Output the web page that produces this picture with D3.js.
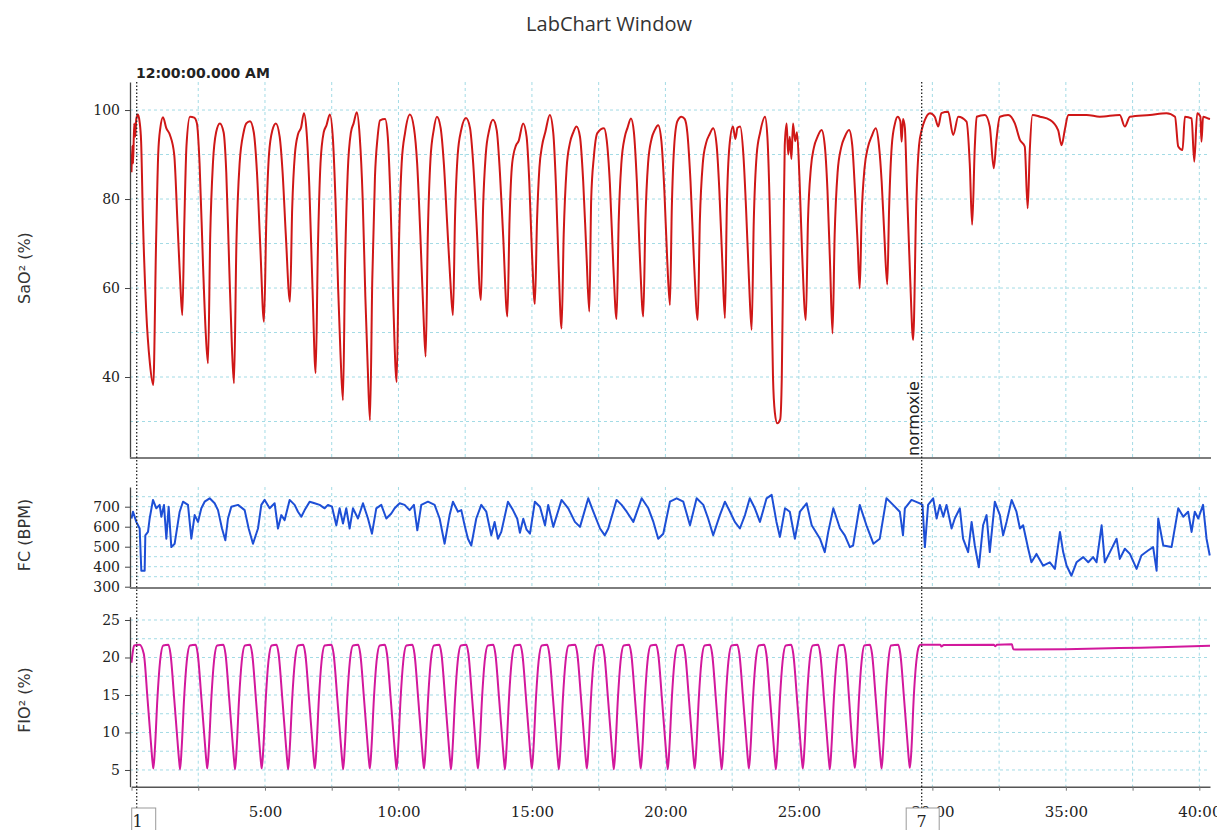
<!DOCTYPE html>
<html>
<head>
<meta charset="utf-8">
<title>LabChart Window</title>
<script src="https://cdn.jsdelivr.net/npm/d3@7"></script>
<style>
  body { margin: 0; background: #fff; }
  svg { display: block; }
</style>
</head>
<body>
<svg id="chart"></svg>
<script>
// SaO2 trace, [minutes, %]
var sao2 = [
  [0.0, 86], [0.03, 92], [0.06, 88], [0.1, 97], [0.14, 94], [0.18, 98], [0.24, 99], [0.3, 97.5], [0.36, 93], [0.43, 75], [0.55, 55], [0.69, 43], [0.816, 38.2],
  [0.92, 70], [1.0, 90], [1.08, 96], [1.18, 98.4], [1.3, 96], [1.44, 94.4], [1.6, 90], [1.72, 75], [1.82, 62], [1.903, 53.9],
  [1.98, 75], [2.06, 92], [2.19, 98.5], [2.35, 98.3], [2.45, 97], [2.55, 88], [2.68, 65], [2.78, 50], [2.865, 43.1],
  [2.95, 72], [3.05, 88], [3.17, 95], [3.31, 97], [3.45, 95], [3.55, 86], [3.66, 65], [3.76, 47], [3.839, 38.6],
  [3.93, 70], [4.05, 88], [4.2, 95], [4.3, 97], [4.44, 97.5], [4.58, 95], [4.7, 86], [4.82, 70], [4.963, 52.4],
  [5.05, 75], [5.15, 90], [5.28, 95.5], [5.41, 97], [5.55, 94], [5.66, 86], [5.78, 72], [5.936, 56.9],
  [6.02, 78], [6.12, 90], [6.24, 94.6], [6.35, 96], [6.46, 99.3], [6.56, 95], [6.66, 83], [6.78, 60], [6.899, 40.9],
  [6.98, 68], [7.08, 88], [7.2, 95], [7.3, 96.5], [7.43, 99], [7.55, 93], [7.64, 80], [7.74, 60], [7.83, 45], [7.921, 34.8],
  [8.0, 65], [8.1, 86], [8.22, 95], [8.32, 97], [8.44, 99.5], [8.55, 94], [8.66, 80], [8.76, 58], [8.85, 42], [8.933, 30.3],
  [9.02, 62], [9.12, 85], [9.22, 94], [9.31, 97.7], [9.5, 98], [9.6, 94], [9.7, 80], [9.8, 58], [9.933, 38.9],
  [10.02, 70], [10.12, 88], [10.25, 95], [10.43, 99], [10.58, 96], [10.7, 88], [10.82, 72], [10.93, 55], [11.019, 44.6],
  [11.1, 72], [11.2, 89], [11.32, 95.5], [11.44, 98.5], [11.58, 96], [11.7, 88], [11.82, 75], [11.94, 62], [12.041, 53.9],
  [12.12, 76], [12.22, 90], [12.35, 95.5], [12.53, 98.2], [12.68, 96], [12.8, 88], [12.92, 75], [13.09, 57.3],
  [13.17, 78], [13.27, 90], [13.4, 95.5], [13.54, 97.8], [13.68, 95.5], [13.8, 86], [13.92, 72], [14.08, 53.6],
  [14.16, 75], [14.26, 88], [14.4, 92], [14.5, 93], [14.67, 97], [14.8, 94], [14.9, 84], [15.0, 68], [15.11, 56.4],
  [15.19, 75], [15.28, 87], [15.38, 92], [15.5, 95], [15.67, 98.9], [15.8, 94.8], [15.9, 83], [16.0, 65], [16.11, 50.9],
  [16.19, 72], [16.3, 87], [16.42, 92.5], [16.55, 95], [16.67, 96.3], [16.8, 94], [16.92, 84], [17.04, 68], [17.15, 54.7],
  [17.22, 80], [17.32, 89.5], [17.45, 94.8], [17.7, 95.9], [17.8, 93.3], [17.92, 83.5], [18.05, 64.8], [18.17, 53],
  [18.25, 75], [18.35, 88], [18.48, 94], [18.58, 96], [18.71, 98.1], [18.82, 95], [18.93, 84], [19.05, 66], [19.17, 53.6],
  [19.25, 75], [19.35, 88], [19.48, 93.5], [19.6, 95.5], [19.73, 96.6], [19.85, 93], [19.96, 82], [20.07, 66], [20.17, 56.2],
  [20.24, 78], [20.33, 92], [20.45, 97.5], [20.6, 98.5], [20.72, 98], [20.82, 95], [20.94, 84], [21.07, 66], [21.21, 52.8],
  [21.29, 75], [21.4, 88], [21.52, 92.5], [21.65, 94.5], [21.79, 95.9], [21.92, 92], [22.02, 82], [22.13, 66], [22.23, 53.2],
  [22.3, 78], [22.4, 92], [22.53, 96.3], [22.62, 93.5], [22.7, 96], [22.8, 96.3], [22.92, 90], [23.02, 78], [23.13, 62], [23.23, 50.6],
  [23.31, 75], [23.42, 90], [23.55, 95], [23.73, 98.5], [23.82, 94], [23.9, 80], [23.97, 60], [24.03, 40], [24.1, 32], [24.19, 29.6], [24.3, 30.5], [24.36, 40],
  [24.42, 70], [24.47, 92], [24.54, 97], [24.6, 90], [24.66, 94], [24.72, 89], [24.78, 97], [24.86, 93], [24.93, 95], [25.02, 85], [25.12, 68], [25.26, 52.8],
  [25.34, 75], [25.45, 87], [25.56, 91.5], [25.7, 94], [25.85, 95.5], [25.97, 92], [26.07, 82], [26.17, 65], [26.26, 49.8],
  [26.34, 72], [26.45, 86], [26.58, 91.5], [26.72, 94], [26.88, 95.5], [27.0, 92], [27.1, 82], [27.2, 70], [27.28, 59.9],
  [27.35, 76], [27.46, 87], [27.58, 91.5], [27.72, 94], [27.88, 95.9], [28.0, 92], [28.1, 84], [28.2, 72], [28.31, 60.8],
  [28.38, 78], [28.48, 92], [28.6, 97], [28.7, 98.5], [28.8, 97.5], [28.85, 92.9], [28.9, 98], [28.97, 96], [29.05, 82], [29.17, 62], [29.28, 48.3],
  [29.4, 80], [29.5, 92], [29.6, 95.5], [29.72, 97.8], [29.91, 99.3], [30.09, 98.5], [30.22, 96.3], [30.34, 99.3], [30.59, 99.6],
  [30.78, 94.4], [30.97, 98.5], [31.28, 97.4], [31.4, 88], [31.49, 74.2], [31.59, 91.8], [31.66, 98.5], [31.97, 98.9],
  [32.15, 96.3], [32.3, 86.9], [32.4, 93.3], [32.53, 98.5], [32.84, 98.9], [33.09, 97], [33.28, 93.3], [33.46, 91.8],
  [33.57, 77.9], [33.65, 91], [33.75, 98.9], [34.03, 98.5], [34.4, 97.8], [34.71, 95.5], [34.84, 92.1], [34.96, 95.5],
  [35.09, 98.9], [35.78, 98.9], [36.27, 98.5], [37.02, 98.9], [37.21, 96.3], [37.4, 98.5], [38.15, 98.9], [38.77, 99.3],
  [39.09, 98.5], [39.21, 91.8], [39.37, 91], [39.46, 98.5], [39.71, 98.1], [39.81, 88.4], [39.92, 99.3], [40.04, 98.5],
  [40.08, 92.9], [40.14, 98.5], [40.33, 98.1], [40.4, 98]
];

// heart rate trace, [minutes, BPM]
var fc = [
  [0.0, 641], [0.056, 675], [0.181, 624], [0.306, 591], [0.368, 380], [0.493, 380], [0.518, 557], [0.618, 574],
  [0.68, 641], [0.805, 734], [0.93, 692], [1.055, 709], [1.117, 650], [1.217, 709], [1.305, 540], [1.392, 700],
  [1.492, 498], [1.617, 515], [1.804, 675], [1.929, 725], [2.116, 709], [2.241, 540], [2.366, 658], [2.491, 624],
  [2.616, 692], [2.74, 725], [2.928, 742], [3.115, 717], [3.24, 683], [3.39, 591], [3.515, 532], [3.614, 641],
  [3.739, 700], [3.989, 709], [4.239, 683], [4.389, 591], [4.551, 515], [4.738, 591], [4.863, 709], [4.988, 734],
  [5.175, 692], [5.362, 717], [5.487, 591], [5.612, 658], [5.737, 633], [5.924, 734], [6.111, 709], [6.236, 675],
  [6.361, 650], [6.486, 683], [6.673, 725], [6.86, 717], [7.048, 709], [7.235, 692], [7.36, 709], [7.51, 700],
  [7.672, 607], [7.797, 692], [7.922, 616], [8.046, 692], [8.171, 591], [8.296, 692], [8.483, 641], [8.671, 717],
  [8.858, 641], [9.008, 565], [9.17, 692], [9.357, 709], [9.545, 641], [9.732, 666], [9.857, 692], [10.044, 717],
  [10.231, 709], [10.418, 683], [10.58, 709], [10.706, 582], [10.855, 709], [11.105, 725], [11.355, 709], [11.542, 641],
  [11.729, 515], [11.916, 658], [12.041, 725], [12.229, 675], [12.354, 683], [12.478, 607], [12.603, 540], [12.728, 506],
  [12.915, 641], [13.102, 709], [13.29, 675], [13.477, 557], [13.602, 624], [13.727, 540], [13.852, 574], [14.102, 725],
  [14.29, 683], [14.45, 640], [14.55, 570], [14.676, 640], [14.8, 585], [14.926, 565], [15.11, 725], [15.3, 700],
  [15.49, 607], [15.61, 709], [15.8, 599], [16.11, 734], [16.36, 692], [16.61, 624], [16.8, 599], [17.11, 742],
  [17.3, 675], [17.55, 591], [17.73, 557], [17.86, 591], [18.17, 734], [18.36, 709], [18.55, 675], [18.8, 624],
  [19.11, 742], [19.36, 692], [19.55, 624], [19.73, 540], [19.92, 565], [20.17, 725], [20.42, 742], [20.67, 725],
  [20.92, 607], [21.17, 742], [21.42, 709], [21.6, 641], [21.79, 557], [22.04, 658], [22.23, 725], [22.42, 675],
  [22.6, 624], [22.79, 591], [22.98, 658], [23.16, 742], [23.35, 692], [23.54, 624], [23.79, 742], [23.98, 759],
  [24.16, 624], [24.29, 549], [24.48, 692], [24.66, 675], [24.85, 540], [25.04, 675], [25.29, 717], [25.48, 607],
  [25.79, 540], [25.97, 473], [26.1, 574], [26.29, 692], [26.54, 591], [26.72, 557], [26.91, 498], [27.03, 506],
  [27.28, 709], [27.53, 607], [27.79, 515], [28.03, 540], [28.28, 742], [28.53, 709], [28.78, 675], [28.9, 557],
  [28.97, 692], [29.22, 734], [29.53, 717], [29.63, 709], [29.72, 498], [29.84, 709], [30.03, 742], [30.16, 641],
  [30.28, 709], [30.41, 650], [30.53, 709], [30.72, 591], [30.84, 641], [31.03, 692], [31.15, 540], [31.34, 473],
  [31.47, 624], [31.59, 506], [31.74, 397], [31.9, 607], [32.03, 658], [32.15, 473], [32.34, 725], [32.53, 658],
  [32.65, 557], [32.78, 624], [32.97, 734], [33.15, 675], [33.28, 591], [33.4, 607], [33.59, 490], [33.71, 422],
  [33.9, 464], [34.15, 405], [34.4, 422], [34.59, 389], [34.78, 574], [34.9, 473], [35.03, 405], [35.21, 355],
  [35.4, 422], [35.65, 448], [35.84, 422], [36.02, 448], [36.15, 422], [36.34, 607], [36.46, 422], [36.65, 473],
  [36.9, 540], [37.02, 439], [37.21, 490], [37.4, 464], [37.65, 389], [37.83, 456], [38.08, 481], [38.27, 498],
  [38.4, 380], [38.46, 641], [38.65, 506], [38.96, 498], [39.21, 692], [39.4, 650], [39.58, 675], [39.71, 574],
  [39.83, 675], [39.96, 641], [40.14, 709], [40.27, 540], [40.39, 456]
];

// inspired O2 fraction, [minutes, %]
var fio2 = [
  [0, 19.3], [0.05, 20.8], [0.1, 21.6], [0.3, 21.7], [0.46, 20.5], [0.6, 14.5], [0.72, 9], [0.79, 6],
  [0.82, 5.2], [0.88, 8], [0.97, 14.5], [1.07, 19.5], [1.19, 21.6], [1.38, 21.7], [1.46, 20.5], [1.6, 14.5], [1.72, 9], [1.79, 6],
  [1.82, 5.1], [1.88, 8], [1.97, 14.5], [2.07, 19.5], [2.19, 21.6], [2.4, 21.7], [2.48, 20.5], [2.62, 14.5], [2.74, 9], [2.81, 6],
  [2.84, 5.2], [2.9, 8], [2.99, 14.5], [3.09, 19.5], [3.21, 21.6], [3.44, 21.7], [3.52, 20.5], [3.66, 14.5], [3.78, 9], [3.85, 6],
  [3.88, 5.1], [3.94, 8], [4.03, 14.5], [4.13, 19.5], [4.25, 21.6], [4.44, 21.7], [4.52, 20.5], [4.66, 14.5], [4.78, 9], [4.85, 6],
  [4.88, 5.2], [4.94, 8], [5.03, 14.5], [5.13, 19.5], [5.25, 21.6], [5.43, 21.7], [5.51, 20.5], [5.65, 14.5], [5.77, 9], [5.84, 6],
  [5.87, 5.1], [5.93, 8], [6.02, 14.5], [6.12, 19.5], [6.24, 21.6], [6.43, 21.7], [6.51, 20.5], [6.65, 14.5], [6.77, 9], [6.84, 6],
  [6.87, 5.2], [6.93, 8], [7.02, 14.5], [7.12, 19.5], [7.24, 21.6], [7.49, 21.7], [7.57, 20.5], [7.71, 14.5], [7.83, 9], [7.9, 6],
  [7.93, 5.1], [7.99, 8], [8.08, 14.5], [8.18, 19.5], [8.3, 21.6], [8.49, 21.7], [8.57, 20.5], [8.71, 14.5], [8.83, 9], [8.9, 6],
  [8.93, 5.2], [8.99, 8], [9.08, 14.5], [9.18, 19.5], [9.3, 21.6], [9.49, 21.7], [9.57, 20.5], [9.71, 14.5], [9.83, 9], [9.9, 6],
  [9.93, 5.1], [9.99, 8], [10.08, 14.5], [10.18, 19.5], [10.3, 21.6], [10.52, 21.7], [10.6, 20.5], [10.74, 14.5], [10.86, 9], [10.93, 6],
  [10.96, 5.2], [11.02, 8], [11.11, 14.5], [11.21, 19.5], [11.33, 21.6], [11.53, 21.7], [11.61, 20.5], [11.75, 14.5], [11.87, 9], [11.94, 6],
  [11.97, 5.1], [12.03, 8], [12.12, 14.5], [12.22, 19.5], [12.34, 21.6], [12.54, 21.7], [12.62, 20.5], [12.76, 14.5], [12.88, 9], [12.95, 6],
  [12.98, 5.2], [13.04, 8], [13.13, 14.5], [13.23, 19.5], [13.35, 21.6], [13.55, 21.7], [13.63, 20.5], [13.77, 14.5], [13.89, 9], [13.96, 6],
  [13.99, 5.1], [14.05, 8], [14.14, 14.5], [14.24, 19.5], [14.36, 21.6], [14.56, 21.7], [14.64, 20.5], [14.78, 14.5], [14.9, 9], [14.97, 6],
  [15.0, 5.2], [15.06, 8], [15.15, 14.5], [15.25, 19.5], [15.37, 21.6], [15.57, 21.7], [15.65, 20.5], [15.79, 14.5], [15.91, 9], [15.98, 6],
  [16.01, 5.1], [16.07, 8], [16.16, 14.5], [16.26, 19.5], [16.38, 21.6], [16.62, 21.7], [16.7, 20.5], [16.84, 14.5], [16.96, 9], [17.03, 6],
  [17.06, 5.2], [17.12, 8], [17.21, 14.5], [17.31, 19.5], [17.43, 21.6], [17.63, 21.7], [17.71, 20.5], [17.85, 14.5], [17.97, 9], [18.04, 6],
  [18.07, 5.1], [18.13, 8], [18.22, 14.5], [18.32, 19.5], [18.44, 21.6], [18.64, 21.7], [18.72, 20.5], [18.86, 14.5], [18.98, 9], [19.05, 6],
  [19.08, 5.2], [19.14, 8], [19.23, 14.5], [19.33, 19.5], [19.45, 21.6], [19.65, 21.7], [19.73, 20.5], [19.87, 14.5], [19.99, 9], [20.06, 6],
  [20.09, 5.1], [20.15, 8], [20.24, 14.5], [20.34, 19.5], [20.46, 21.6], [20.66, 21.7], [20.74, 20.5], [20.88, 14.5], [21.0, 9], [21.07, 6],
  [21.1, 5.2], [21.16, 8], [21.25, 14.5], [21.35, 19.5], [21.47, 21.6], [21.67, 21.7], [21.75, 20.5], [21.89, 14.5], [22.01, 9], [22.08, 6],
  [22.11, 5.1], [22.17, 8], [22.26, 14.5], [22.36, 19.5], [22.48, 21.6], [22.69, 21.7], [22.77, 20.5], [22.91, 14.5], [23.03, 9], [23.1, 6],
  [23.13, 5.2], [23.19, 8], [23.28, 14.5], [23.38, 19.5], [23.5, 21.6], [23.7, 21.7], [23.78, 20.5], [23.92, 14.5], [24.04, 9], [24.11, 6],
  [24.14, 5.1], [24.2, 8], [24.29, 14.5], [24.39, 19.5], [24.51, 21.6], [24.71, 21.7], [24.79, 20.5], [24.93, 14.5], [25.05, 9], [25.12, 6],
  [25.15, 5.2], [25.21, 8], [25.3, 14.5], [25.4, 19.5], [25.52, 21.6], [25.72, 21.7], [25.8, 20.5], [25.94, 14.5], [26.06, 9], [26.13, 6],
  [26.16, 5.1], [26.22, 8], [26.31, 14.5], [26.41, 19.5], [26.5, 21.6], [26.68, 21.7], [26.75, 20.5], [26.88, 14.5], [26.99, 9], [27.07, 6],
  [27.1, 5.3], [27.16, 8], [27.25, 14.5], [27.35, 19.5], [27.45, 21.6], [27.66, 21.7], [27.74, 20.5], [27.88, 14.5], [28.0, 9], [28.07, 6],
  [28.1, 5.2], [28.16, 8], [28.25, 14.5], [28.35, 19.5], [28.45, 21.6], [28.72, 21.7], [28.8, 20.5], [28.94, 14.5], [29.06, 9], [29.13, 6],
  [29.16, 5.3], [29.22, 8], [29.3, 14.5], [29.4, 19.5], [29.5, 21.5], [29.56, 21.7], [30.3, 21.7], [30.34, 21.45], [30.42, 21.65],
  [32.3, 21.7], [32.36, 21.5], [32.42, 21.7], [32.98, 21.75], [33.03, 21.1], [33.2, 21.05], [35, 21.1], [37, 21.25],
  [38.5, 21.35], [40.4, 21.55]
];

// comment markers on the time axis
var markerTimes = [0.195, 29.6];
var markerLabels = ["1", "7"];
var markerComments = ["", "normoxie"];

var timeTicks = [5, 10, 15, 20, 25, 30, 35, 40];
var timeGrid = d3.range(2.5, 40.1, 2.5);
var sao2Ticks = [40, 60, 80, 100];
var sao2Grid = [30, 40, 50, 60, 70, 80, 90, 100];
var fcTicks = [300, 400, 500, 600, 700];
var fcGrid = [350, 400, 450, 500, 550, 600, 650, 700, 750];
var fio2Ticks = [5, 10, 15, 20, 25];
var fio2Grid = [5, 7.5, 10, 12.5, 15, 17.5, 20, 22.5, 25];

var width = 1217, height = 830;
var plotLeft = 130, plotRight = 1210;
var gridColor = "#a3dbe5";

var svg = d3.select("#chart")
    .attr("width", width)
    .attr("height", height);

var x = d3.scaleLinear().domain([0, 40.4]).range([131.5, plotRight]);

var panels = [
    { id: "sao2", title: "SaO² (%)", data: sao2, domain: [21.8, 106.3], top: 82, bottom: 458,
      ticks: sao2Ticks, grid: sao2Grid, color: "#cf1717", curve: d3.curveMonotoneX, titleY: 268 },
    { id: "fc", title: "FC (BPM)", data: fc, domain: [293.5, 798.5], top: 487, bottom: 588,
      ticks: fcTicks, grid: fcGrid, color: "#1d4fd6", curve: d3.curveLinear, titleY: 535 },
    { id: "fio2", title: "FIO² (%)", data: fio2, domain: [2.77, 25.44], top: 616.7, bottom: 786.7,
      ticks: fio2Ticks, grid: fio2Grid, color: "#d2189c", curve: d3.curveMonotoneX, titleY: 700 }
];

// title + start time
svg.append("text")
    .attr("x", 609)
    .attr("y", 31)
    .attr("text-anchor", "middle")
    .style("font-family", "'Open Sans', sans-serif")
    .style("font-size", "20px")
    .style("fill", "#333")
    .text("LabChart Window");

svg.append("text")
    .attr("x", 136)
    .attr("y", 78)
    .style("font-family", "'DejaVu Sans', sans-serif")
    .style("font-size", "14px")
    .style("font-weight", "bold")
    .style("fill", "#222")
    .text("12:00:00.000 AM");

panels.forEach(function(p) {
    var y = d3.scaleLinear().domain(p.domain).range([p.bottom, p.top]);
    var g = svg.append("g").attr("class", "panel-" + p.id);

    svg.append("clipPath")
        .attr("id", "clip-" + p.id)
        .append("rect")
        .attr("x", plotLeft + 1)
        .attr("y", p.top)
        .attr("width", plotRight - plotLeft)
        .attr("height", p.bottom - p.top);

    // grid
    g.selectAll(".vgrid")
        .data(timeGrid)
        .enter()
        .append("line")
        .attr("x1", function(d) { return x(d); })
        .attr("x2", function(d) { return x(d); })
        .attr("y1", p.top)
        .attr("y2", p.bottom)
        .style("stroke", gridColor)
        .style("stroke-dasharray", "3,3");

    g.selectAll(".hgrid")
        .data(p.grid)
        .enter()
        .append("line")
        .attr("x1", plotLeft)
        .attr("x2", plotRight)
        .attr("y1", function(d) { return y(d); })
        .attr("y2", function(d) { return y(d); })
        .style("stroke", gridColor)
        .style("stroke-dasharray", "3,3");

    // trace
    var line = d3.line()
        .x(function(d) { return x(d[0]); })
        .y(function(d) { return y(d[1]); })
        .curve(p.curve);

    g.append("path")
        .datum(p.data)
        .attr("clip-path", "url(#clip-" + p.id + ")")
        .attr("d", line)
        .style("fill", "none")
        .style("stroke", p.color)
        .style("stroke-width", 2)
        .style("stroke-linejoin", "round");

    // left axis
    var axis = g.append("g")
        .attr("transform", "translate(" + plotLeft + ",0)")
        .call(d3.axisLeft(y).tickValues(p.ticks).tickSize(5).tickSizeOuter(0).tickPadding(5).tickFormat(d3.format("d")));
    axis.select(".domain").style("stroke", "#444").style("stroke-width", 1.3);
    axis.selectAll(".tick line").style("stroke", "#444");
    axis.selectAll(".tick text")
        .style("font-family", "'DejaVu Serif', serif")
        .style("font-size", "14px")
        .style("fill", "#222");

    svg.append("text")
        .attr("transform", "translate(24," + p.titleY + ") rotate(-90)")
        .attr("text-anchor", "middle")
        .attr("dominant-baseline", "central")
        .style("font-family", "'DejaVu Sans', sans-serif")
        .style("font-size", "16px")
        .style("fill", "#333")
        .text(p.title);

    if (p.id != "fio2") {
        g.append("line")
            .attr("x1", plotLeft)
            .attr("x2", plotRight + 1)
            .attr("y1", p.bottom)
            .attr("y2", p.bottom)
            .style("stroke", "#7d7d7d")
            .style("stroke-width", 2);
    } else {
        var xAxis = g.append("g")
            .attr("transform", "translate(0," + p.bottom + ")")
            .call(d3.axisBottom(x)
                .tickValues([0].concat(timeGrid))
                .tickSize(4)
                .tickSizeOuter(0)
                .tickPadding(16)
                .tickFormat(function(d) { return timeTicks.indexOf(d) >= 0 ? d + ":00" : ""; }));
        xAxis.select(".domain").style("stroke", "#555").style("stroke-width", 1.6);
        xAxis.selectAll(".tick line").style("stroke", "#777");
        xAxis.selectAll(".tick text")
            .style("font-family", "'DejaVu Serif', serif")
            .style("font-size", "15px")
            .style("fill", "#222");
    }
});

// comment markers: dotted line, numbered box, comment text
var markers = svg.append("g").attr("class", "markers");

markers.selectAll("line")
    .data(markerTimes)
    .enter()
    .append("line")
    .attr("x1", function(d) { return x(d); })
    .attr("x2", function(d) { return x(d); })
    .attr("y1", 82)
    .attr("y2", 808)
    .style("stroke", "#222")
    .style("stroke-width", 1.3)
    .style("stroke-dasharray", "1.5,2");

markers.selectAll("rect")
    .data(markerTimes)
    .enter()
    .append("rect")
    .attr("x", function(d, i) { return i == 0 ? x(d) - 5 : x(d) - 15.5; })
    .attr("y", 808)
    .attr("width", function(d, i) { return i == 0 ? 24 : 33; })
    .attr("height", 24)
    .style("fill", "#fff")
    .style("stroke", "#9a9a9a");

markers.selectAll(".mlabel")
    .data(markerTimes)
    .enter()
    .append("text")
    .attr("class", "mlabel")
    .attr("x", function(d, i) { return i == 0 ? x(d) + 1 : x(d); })
    .attr("y", 827)
    .attr("text-anchor", "middle")
    .style("font-family", "'DejaVu Serif', serif")
    .style("font-size", "16px")
    .style("fill", "#222")
    .text(function(d, i) { return markerLabels[i]; });

markers.selectAll(".mcomment")
    .data(markerTimes)
    .enter()
    .append("text")
    .attr("class", "mcomment")
    .attr("transform", function(d) { return "translate(" + (x(d) - 3) + ",456) rotate(-90)"; })
    .style("font-family", "'DejaVu Sans', sans-serif")
    .style("font-size", "16px")
    .style("fill", "#222")
    .text(function(d, i) { return markerComments[i]; });
</script>
